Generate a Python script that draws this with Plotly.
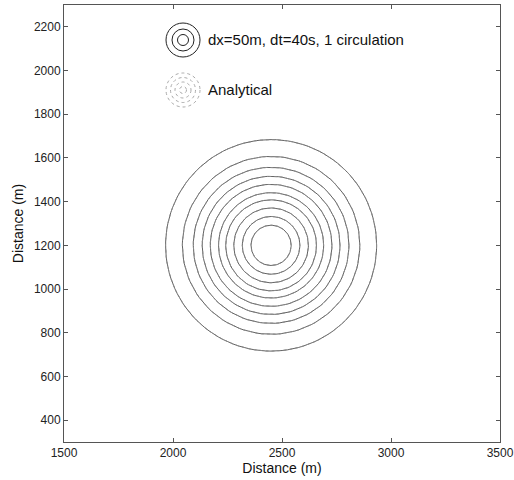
import numpy as np
import plotly.graph_objects as go

# Data
center_x = 2450
center_y = 1200
contour_radii = [484, 407, 357, 316, 279, 241, 208, 171, 132, 92]
analytical_radii = [484, 407, 357, 316, 279, 241, 208, 171, 132, 92]
x_ticks = [1500, 2000, 2500, 3000, 3500]
y_ticks = [400, 600, 800, 1000, 1200, 1400, 1600, 1800, 2000, 2200]
legend_labels = ["dx=50m, dt=40s, 1 circulation", "Analytical"]

fig = go.Figure()
theta = np.linspace(0, 2 * np.pi, 121)

for r in contour_radii:
    fig.add_trace(go.Scatter(
        x=center_x + r * np.cos(theta), y=center_y + r * np.sin(theta),
        mode="lines", line=dict(color="#3a3a3a", width=0.8),
        showlegend=False, hoverinfo="skip"))
for r in analytical_radii:
    fig.add_trace(go.Scatter(
        x=center_x + r * np.cos(theta), y=center_y + r * np.sin(theta),
        mode="lines", line=dict(color="#8a8a8a", width=1, dash="dot"),
        showlegend=False, hoverinfo="skip"))

# legend icons (paper coordinates); plot area: x 64..500, y 5..442 px
def px_to_paper(px, py):
    return (px - 64) / 436.0, 1 - (py - 5) / 437.0

shapes = []
for rr in [17, 11, 5.5]:
    x0, y0 = px_to_paper(183 - rr, 40 - rr)
    x1, y1 = px_to_paper(183 + rr, 40 + rr)
    shapes.append(dict(type="circle", xref="paper", yref="paper",
                       x0=x0, x1=x1, y0=y1, y1=y0,
                       line=dict(color="#222", width=1)))
for rr in [17, 12.5, 8, 3.5]:
    x0, y0 = px_to_paper(183 - rr, 90 - rr)
    x1, y1 = px_to_paper(183 + rr, 90 + rr)
    shapes.append(dict(type="circle", xref="paper", yref="paper",
                       x0=x0, x1=x1, y0=y1, y1=y0,
                       line=dict(color="#aaa", width=1, dash="dot")))

annotations = []
for label, py in zip(legend_labels, [40, 89]):
    ax, ay = px_to_paper(206, py)
    annotations.append(dict(text=label, xref="paper", yref="paper",
                            x=ax, y=ay, xanchor="left", yanchor="middle",
                            showarrow=False,
                            font=dict(family="Liberation Sans, Arial", size=15, color="#111")))

axis_common = dict(showgrid=False, zeroline=False, showline=True, mirror="ticks",
                   linecolor="#555", linewidth=1, ticks="inside", ticklen=4,
                   tickcolor="#555", automargin=False,
                   tickfont=dict(family="Liberation Sans, Arial", size=12, color="#222"),
                   title_font=dict(family="Liberation Sans, Arial", size=14, color="#111"))

fig.update_layout(
    width=514, height=480,
    margin=dict(l=64, r=14, t=5, b=38),
    paper_bgcolor="white", plot_bgcolor="white",
    shapes=shapes, annotations=annotations,
    xaxis=dict(range=[1500, 3500], tickvals=x_ticks, title=dict(text="Distance (m)", standoff=2),
               **axis_common),
    yaxis=dict(range=[300, 2300], tickvals=y_ticks, title=dict(text="Distance (m)", standoff=6),
               **axis_common),
)

fig.write_html("out.html", config={"displayModeBar": False},
               post_script="document.body.style.margin='0';document.body.style.overflow='hidden';")
